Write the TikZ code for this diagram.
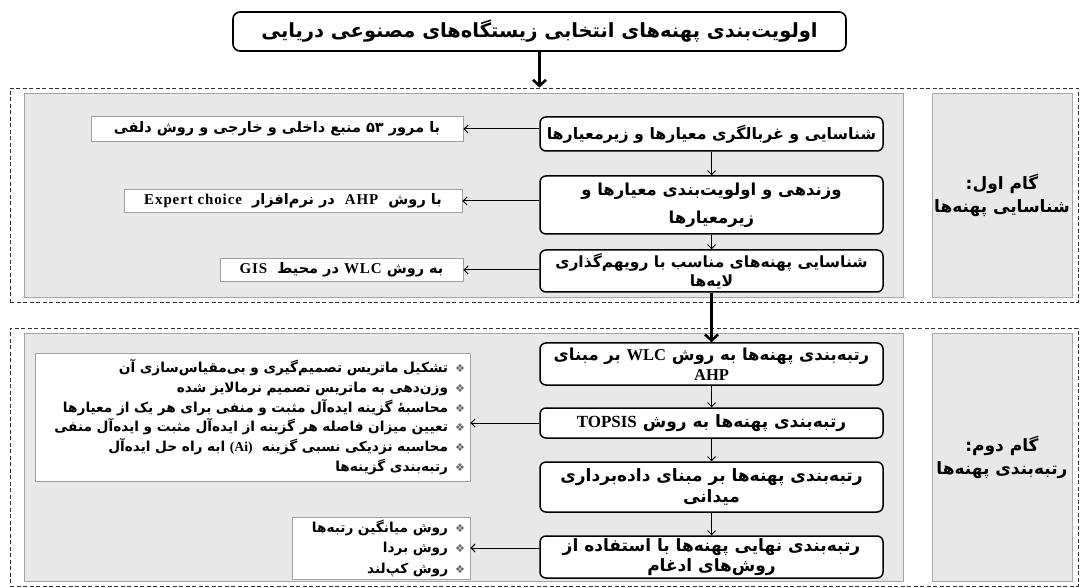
\documentclass[tikz,border=0pt]{standalone}
\usepackage{fontspec}
\usetikzlibrary{arrows.meta}
\TeXXeTstate=1
\newfontfamily\fa[Script=Arabic]{DejaVu Sans}
\newfontfamily\la{Liberation Serif}
\newfontfamily\las{Liberation Serif}[LetterSpace=6]
\newfontfamily\sym{DejaVu Sans}
\newcommand{\fatext}[1]{\beginR #1\endR}
\newcommand{\lat}[1]{{\la\bfseries\beginL #1\endL}}
\newcommand{\latsp}[1]{{\las\bfseries\fontsize{15}{16}\selectfont\beginL #1\endL}}
\newcommand{\bul}{\hspace{7pt}{\sym\mdseries\color{black!60}\fontsize{11}{11}\selectfont ❖}}
\definecolor{panelfill}{HTML}{E8E8E8}
\definecolor{paneldraw}{HTML}{9AA6B8}
\definecolor{labeldraw}{HTML}{A8A8A8}
\definecolor{notedraw}{HTML}{A0A0A0}
\tikzset{
  outerbox/.style={draw=black!80, line width=0.8pt, dash pattern=on 4pt off 2.5pt, inner sep=0pt},
  panelbox/.style={draw=paneldraw, line width=0.8pt, fill=panelfill, inner sep=0pt},
  labelbox/.style={draw=labeldraw, line width=0.8pt, fill=panelfill, align=center,
    font=\fa\bfseries\fontsize{17}{23}\selectfont, inner sep=0pt},
  titlebox/.style={draw=black, line width=1.6pt, rounded corners=7pt, fill=white, align=center,
    font=\fa\bfseries\fontsize{19.5}{22}\selectfont, inner sep=0pt},
  stepbox/.style={draw=black, line width=1.5pt, rounded corners=6pt, fill=white, align=center,
    font=\fa\bfseries\fontsize{16.5}{19.5}\selectfont, inner sep=0pt, minimum width=343pt},
  notebox/.style={draw=notedraw, line width=0.7pt, fill=white, align=center,
    font=\fa\bfseries\fontsize{14.5}{16}\selectfont, inner sep=0pt},
  listbox/.style={draw=notedraw, line width=0.7pt, fill=white, align=right,
    font=\fa\bfseries\fontsize{13.7}{19.7}\selectfont, inner xsep=5pt, inner ysep=0pt},
  arr/.style={-{Straight Barb[length=4pt,width=8pt]}, line width=1pt},
  bigarr/.style={-{Straight Barb[length=6pt,width=13pt]}, line width=2.6pt}
}
\begin{document}
\begin{tikzpicture}[x=1pt,y=-1pt]
\useasboundingbox (0,0) rectangle (1080,588);
% ---------- containers ----------
\node[outerbox, minimum width=1068pt, minimum height=214pt] (o1) at (544,195) {};
\node[panelbox, minimum width=879pt, minimum height=204pt] (p1) at (463.5,195) {};
\node[labelbox, minimum width=140pt, minimum height=204pt] (g1) at (1002,195)
  {\fatext{گام اول:}\\ \fatext{شناسایی پهنه‌ها}};
\node[outerbox, minimum width=1068pt, minimum height=258pt] (o2) at (544,457) {};
\node[panelbox, minimum width=879pt, minimum height=248pt] (p2) at (463.5,457) {};
\node[labelbox, minimum width=140pt, minimum height=248pt] (g2) at (1002,457)
  {\fatext{گام دوم:}\\ \fatext{رتبه‌بندی پهنه‌ها}};
% ---------- title ----------
\node[titlebox, minimum width=613pt, minimum height=39pt] (t) at (539.5,31.5)
  {\fatext{اولویت‌بندی پهنه‌های انتخابی زیستگاه‌های مصنوعی دریایی}};
% ---------- step 1 ----------
\node[stepbox, minimum height=34pt, font=\fa\bfseries\fontsize{15.8}{19}\selectfont] (s1a) at (711.5,134)
  {\fatext{شناسایی و غربالگری معیارها و زیرمعیارها}};
\node[stepbox, minimum height=58pt, font=\fa\bfseries\fontsize{16.5}{28}\selectfont] (s1b) at (711.5,205)
  {\fatext{وزندهی و اولویت‌بندی معیارها و}\\ \fatext{زیرمعیارها}};
\node[stepbox, minimum height=42pt, font=\fa\bfseries\fontsize{15.5}{19.5}\selectfont] (s1c) at (711.5,271)
  {\fatext{شناسایی پهنه‌های مناسب با رویهم‌گذاری}\\ \fatext{لایه‌ها}};
\node[notebox, minimum width=372pt, minimum height=25pt] (n1) at (277,129)
  {\fatext{با مرور ۵۳ منبع داخلی و خارجی و روش دلفی}};
\node[notebox, minimum width=338pt, minimum height=23pt] (n2) at (293,201)
  {\fatext{با روش \ \latsp{AHP}\ \ در نرم‌افزار \ \latsp{Expert choice}}};
\node[notebox, minimum width=243pt, minimum height=23pt] (n3) at (341.5,270)
  {\fatext{به روش \latsp{WLC}\ در محیط \ \latsp{GIS}}};
% ---------- step 2 ----------
\node[stepbox, minimum height=42pt] (s2a) at (711.5,364)
  {\fatext{رتبه‌بندی پهنه‌ها به روش \lat{WLC} بر مبنای}\\ \lat{AHP}};
\node[stepbox, minimum height=30pt, font=\fa\bfseries\fontsize{17}{19.5}\selectfont] (s2b) at (711.5,423)
  {\fatext{رتبه‌بندی پهنه‌ها به روش \lat{TOPSIS}}};
\node[stepbox, minimum height=50pt, font=\fa\bfseries\fontsize{17}{20.5}\selectfont] (s2c) at (711.5,487)
  {\fatext{رتبه‌بندی پهنه‌ها بر مبنای داده‌برداری}\\ \fatext{میدانی}};
\node[stepbox, minimum height=42pt, font=\fa\bfseries\fontsize{17}{19.5}\selectfont] (s2d) at (711.5,557)
  {\fatext{رتبه‌بندی نهایی پهنه‌ها با استفاده از}\\ \fatext{روش‌های ادغام}};
\node[listbox, text width=425pt, minimum height=128pt] (l1) at (252.5,417)
  {\fatext{تشکیل ماتریس تصمیم‌گیری و بی‌مقیاس‌سازی آن}\bul\\
   \fatext{وزن‌دهی به ماتریس تصمیم نرمالایز شده}\bul\\
   \fatext{محاسبهٔ گزینه ایده‌آل مثبت و منفی برای هر یک از معیارها}\bul\\
   \fatext{تعیین میزان فاصله هر گزینه از ایده‌آل مثبت و ایده‌آل منفی}\bul\\
   \fatext{محاسبه نزدیکی نسبی گزینه \ \lat{(Ai)} ابه راه حل ایده‌آل}\bul\\
   \fatext{رتبه‌بندی گزینه‌ها}\bul};
\node[listbox, text width=168pt, minimum height=62pt, font=\fa\bfseries\fontsize{13.7}{20.5}\selectfont] (l2) at (381,548)
  {\fatext{روش میانگین رتبه‌ها}\bul\\
   \fatext{روش بردا}\bul\\
   \fatext{روش کپ‌لند}\bul};
% ---------- connectors ----------
\draw[bigarr] (t.south) -- (t.south |- o1.north);
\draw[arr] (s1a) -- (s1b);
\draw[arr] (s1b) -- (s1c);
\draw[bigarr] (s1c) -- (s2a);
\draw[arr] (s2a) -- (s2b);
\draw[arr] (s2b) -- (s2c);
\draw[arr] (s2c) -- (s2d);
\draw[arr] (n1.east -| s1a.west) -- (n1.east);
\draw[arr] (n2.east -| s1b.west) -- (n2.east);
\draw[arr] (n3.east -| s1c.west) -- (n3.east);
\draw[arr] (s2b.west) -- (s2b.west -| l1.east);
\draw[arr] (l2.east -| s2d.west) -- (l2.east);
\end{tikzpicture}
\end{document}
